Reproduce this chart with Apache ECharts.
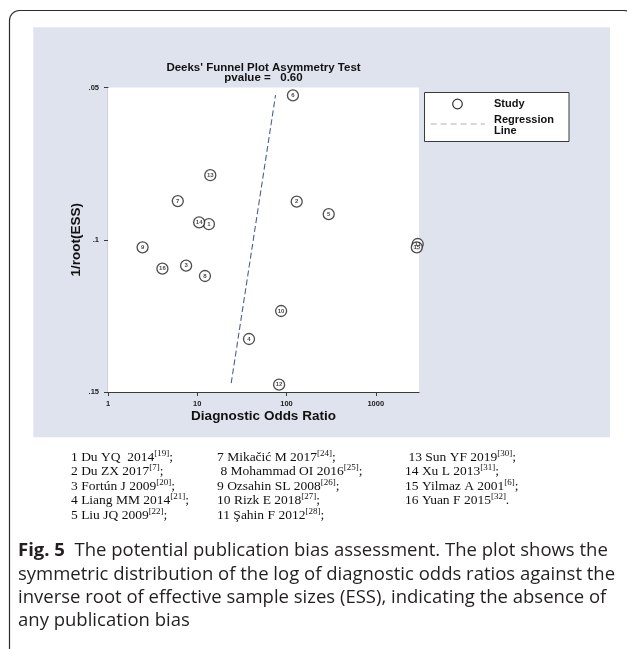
<!DOCTYPE html>
<html>
<head>
<meta charset="utf-8">
<script src="https://cdn.jsdelivr.net/npm/echarts@6/dist/echarts.min.js"></script>
<style>
  html, body { margin: 0; padding: 0; background: #ffffff; }
  #chart { width: 627px; height: 649px; }
</style>
</head>
<body>
<div id="chart"></div>
<script>
// Study numbers, diagnostic odds ratios and 1/sqrt(ESS) for each study
const studyIds = [1, 2, 3, 4, 5, 6, 7, 8, 9, 10, 11, 12, 13, 14, 15, 16];
const diagnosticOddsRatio = [13.5, 130, 7.5, 38, 297, 118, 6.05, 12.2, 2.44, 87, 2950, 82.6, 14, 10.5, 2880, 4.07];
const invRootEss = [0.0949, 0.0875, 0.1085, 0.1326, 0.0916, 0.0526, 0.0873, 0.1119, 0.1025, 0.1234, 0.1014, 0.1476, 0.0788, 0.0943, 0.1025, 0.1095];

// Fitted regression line (end points)
const regressionDor = [24, 75.4];
const regressionInvRootEss = [0.1471, 0.0525];

// Axis ticks
const xTickValues = [1, 10, 100, 1000];
const yTickValues = [0.05, 0.1, 0.15];

// Plot texts
const plotTitle = "Deeks' Funnel Plot Asymmetry Test";
const plotSubtitle = 'pvalue =   0.60';
const xAxisName = 'Diagnostic Odds Ratio';
const yAxisName = '1/root(ESS)';
const legendStudy = 'Study';
const legendRegression = ['Regression', 'Line'];

// Study reference list, three columns
const refColumn1 = ['1 Du YQ  2014{s|[19]};', '2 Du ZX 2017{s|[7]};', '3 Fortún J 2009{s|[20]};', '4 Liang MM 2014{s|[21]};', '5 Liu JQ 2009{s|[22]};'];
const refColumn2 = ['7 Mikačić M 2017{s|[24]};', ' 8 Mohammad OI 2016{s|[25]};', '9 Ozsahin SL 2008{s|[26]};', '10 Rizk E 2018{s|[27]};', '11 Şahin F 2012{s|[28]};'];
const refColumn3 = [' 13 Sun YF 2019{s|[30]};', '14 Xu L 2013{s|[31]};', '15 Yilmaz A 2001{s|[6]};', '16 Yuan F 2015{s|[32]}.'];

// Figure caption lines
const captionLines = [
  '{b|Fig. 5}  The potential publication bias assessment. The plot shows the',
  'symmetric distribution of the log of diagnostic odds ratios against the',
  'inverse root of effective sample sizes (ESS), indicating the absence of',
  'any publication bias'
];

const SANS = '"Liberation Sans", Arial, sans-serif';
const SERIF = '"Liberation Serif", "Times New Roman", serif';
const CAPTION_FONT = '"Open Sans", "Noto Sans", sans-serif';

const chart = echarts.init(document.getElementById('chart'), null, { renderer: 'canvas' });

const scatterData = studyIds.map((id, i) => [diagnosticOddsRatio[i], invRootEss[i], id]);
const regressionData = regressionDor.map((d, i) => [d, regressionInvRootEss[i]]);

function refTexts(lines, x) {
  return lines.map((t, i) => ({
    type: 'text',
    x: x,
    y: 457 + i * 14.5,
    silent: true,
    style: {
      text: t,
      fontFamily: SERIF,
      fontSize: 13.5,
      lineHeight: 16,
      fill: '#111111',
      verticalAlign: 'middle',
      rich: {
        s: { fontFamily: SERIF, fontSize: 9, lineHeight: 9, verticalAlign: 'top', fill: '#111111' }
      }
    }
  }));
}

const captionTexts = captionLines.map((t, i) => ({
  type: 'text',
  x: 18,
  y: 551 + i * 23.3,
  silent: true,
  style: {
    text: t,
    fontFamily: CAPTION_FONT,
    fontSize: 18.5,
    fill: '#231f20',
    verticalAlign: 'middle',
    rich: {
      b: { fontFamily: CAPTION_FONT, fontSize: 18.5, fontWeight: 'bold', fill: '#231f20' }
    }
  }
}));

const option = {
  backgroundColor: '#ffffff',
  animation: false,
  title: {
    text: plotTitle + '\n' + plotSubtitle,
    left: 263.5,
    top: 62.5,
    textAlign: 'center',
    padding: 0,
    textStyle: {
      fontFamily: SANS,
      fontSize: 11.5,
      fontWeight: 'bold',
      color: '#111111',
      lineHeight: 10.5
    }
  },
  grid: {
    left: 108,
    right: 208,
    top: 87.5,
    bottom: 257,
    show: true,
    backgroundColor: '#ffffff',
    borderWidth: 0,
    z: 1
  },
  xAxis: {
    type: 'log',
    logBase: 10,
    min: 1,
    max: 3050,
    name: xAxisName,
    nameLocation: 'middle',
    nameGap: 17,
    nameTextStyle: { fontFamily: SANS, fontSize: 13.5, fontWeight: 'bold', color: '#111111' },
    axisLine: { show: true, onZero: false, lineStyle: { color: '#3a3a3a', width: 1.2 } },
    axisTick: { show: true, length: 4, customValues: xTickValues, lineStyle: { color: '#3a3a3a', width: 1 } },
    axisLabel: {
      customValues: xTickValues,
      margin: 8,
      fontFamily: SANS,
      fontSize: 7.5,
      fontWeight: 'bold',
      color: '#222222',
      formatter: v => String(Math.round(v))
    },
    splitLine: { show: false },
    minorTick: { show: false }
  },
  yAxis: {
    type: 'value',
    inverse: true,
    min: 0.05,
    max: 0.15,
    interval: 0.05,
    name: yAxisName,
    nameLocation: 'middle',
    nameGap: 25,
    nameRotate: 90,
    nameTextStyle: { fontFamily: SANS, fontSize: 13.5, fontWeight: 'bold', color: '#111111' },
    axisLine: { show: true, onZero: false, lineStyle: { color: '#3a3a3a', width: 1.2 } },
    axisTick: { show: true, length: 4, customValues: yTickValues, lineStyle: { color: '#3a3a3a', width: 1 } },
    axisLabel: {
      customValues: yTickValues,
      margin: 9,
      fontFamily: SANS,
      fontSize: 7.5,
      fontWeight: 'bold',
      color: '#222222',
      formatter: v => String(+v.toFixed(2)).replace(/^0/, '')
    },
    splitLine: { show: true, lineStyle: { color: '#dfe3ee', width: 1.2 } }
  },
  series: [
    {
      name: 'Regression Line',
      type: 'line',
      data: regressionData,
      symbol: 'none',
      z: 3,
      lineStyle: { color: '#4b5f92', width: 1.1, type: [6, 3] }
    },
    {
      name: 'Study',
      type: 'scatter',
      data: scatterData,
      encode: { x: 0, y: 1 },
      symbol: 'circle',
      symbolSize: 11,
      clip: false,
      z: 4,
      itemStyle: { color: '#ffffff', borderColor: '#222222', borderWidth: 1.3 },
      label: {
        show: true,
        position: 'inside',
        formatter: p => String(p.value[2]),
        fontFamily: SANS,
        fontSize: 6,
        fontWeight: 'bold',
        color: '#111111'
      }
    }
  ],
  graphic: [
    // outer figure frame
    {
      type: 'rect',
      z: -20,
      silent: true,
      shape: { x: 9.5, y: 10.5, width: 624.5, height: 800, r: 10 },
      style: { fill: 'none', stroke: '#2b2b2b', lineWidth: 1.2 }
    },
    // chart background panel
    {
      type: 'rect',
      z: -10,
      silent: true,
      shape: { x: 33.3, y: 27.3, width: 576.7, height: 410 },
      style: { fill: '#dfe3ee' }
    },
    // legend box
    {
      type: 'group',
      z: 5,
      silent: true,
      children: [
        {
          type: 'rect',
          shape: { x: 424.5, y: 92.5, width: 144.5, height: 49 },
          style: { fill: '#ffffff', stroke: '#3a3a3a', lineWidth: 1 }
        },
        {
          type: 'circle',
          shape: { cx: 457.5, cy: 104, r: 4.8 },
          style: { fill: '#ffffff', stroke: '#333333', lineWidth: 1.2 }
        },
        {
          type: 'line',
          shape: { x1: 430.7, y1: 124, x2: 485, y2: 124 },
          style: { stroke: '#a7b1c9', lineWidth: 1, lineDash: [6, 4] }
        },
        {
          type: 'text',
          x: 494, y: 104,
          style: { text: legendStudy, fontFamily: SANS, fontSize: 11, fontWeight: 'bold', fill: '#111111', verticalAlign: 'middle' }
        },
        {
          type: 'text',
          x: 494, y: 125.5,
          style: { text: legendRegression.join('\n'), fontFamily: SANS, fontSize: 11, fontWeight: 'bold', lineHeight: 10.5, fill: '#111111', verticalAlign: 'middle' }
        }
      ]
    },
    ...refTexts(refColumn1, 71),
    ...refTexts(refColumn2, 217),
    ...refTexts(refColumn3, 405),
    ...captionTexts
  ]
};

chart.setOption(option);
</script>
</body>
</html>
